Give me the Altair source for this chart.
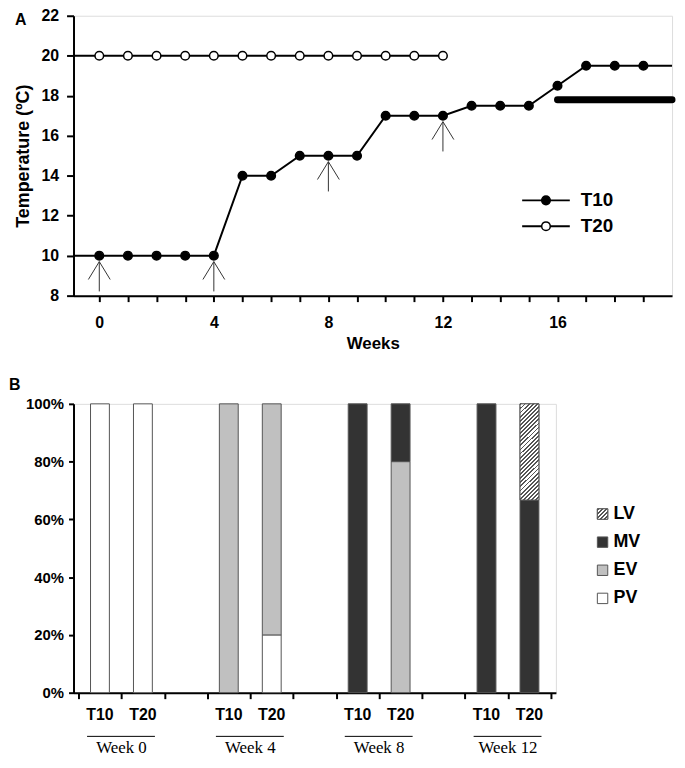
import altair as alt
import pandas as pd

# ---------------- Panel A data ----------------
weeks_t10 = list(range(20))
temps_t10 = [10, 10, 10, 10, 10, 14, 14, 15, 15, 15, 17, 17, 17, 17.5, 17.5, 17.5, 18.5, 19.5, 19.5, 19.5]
weeks_t20 = list(range(13))
temps_t20 = [20, 20, 20, 20, 20, 20, 20, 20, 20, 20, 20, 20, 20]
arrow_weeks = [0, 4, 8, 12]
hold_start, hold_end, hold_level = 16, 20, 17.8
week_min, week_max = -0.9, 20
series_names = ["T10", "T20"]

# ---------------- Panel B data ----------------
week_groups = ["Week 0", "Week 4", "Week 8", "Week 12"]
treatments = ["T10", "T20"]
stages = ["PV", "EV", "MV", "LV"]          # bottom to top
stage_colors = ["#ffffff", "#c0c0c0", "#333333", "#ffffff"]
# per bar, order: W0-T10, W0-T20, W4-T10, W4-T20, W8-T10, W8-T20, W12-T10, W12-T20
pv = [100, 100, 0, 20, 0, 0, 0, 0]
ev = [0, 0, 100, 80, 0, 80, 0, 0]
mv = [0, 0, 0, 0, 100, 20, 100, 66.7]
lv = [0, 0, 0, 0, 0, 0, 0, 33.3]

FONT = "Liberation Sans"
WA, HA = 603, 282
WB, HB = 486, 291

# ---------- Panel A frames ----------
point_rows = [{"series": "T10", "week": w, "temp": t} for w, t in zip(weeks_t10, temps_t10)]
point_rows += [{"series": "T20", "week": w, "temp": t} for w, t in zip(weeks_t20, temps_t20)]
df_points = pd.DataFrame(point_rows)

line_rows = list(point_rows)
line_rows.append({"series": "T10", "week": week_min, "temp": temps_t10[0]})
line_rows.append({"series": "T10", "week": week_max, "temp": temps_t10[-1]})
line_rows.append({"series": "T20", "week": week_min, "temp": temps_t20[0]})
df_lines = pd.DataFrame(line_rows)

df_arrows = pd.DataFrame({"week": arrow_weeks,
                          "temp": [temps_t10[weeks_t10.index(w)] for w in arrow_weeks]})
df_hold = pd.DataFrame({"start": [hold_start], "end": [hold_end], "level": [hold_level]})

xA = alt.X("week:Q",
           scale=alt.Scale(domain=[week_min, week_max], nice=False, zero=False),
           axis=alt.Axis(values=list(range(20)), tickCount=40, format="d",
                         labelExpr="datum.value % 4 == 0 ? datum.label : ''",
                         title="Weeks", grid=False, domainColor="black", domainWidth=2,
                         tickColor="black", tickWidth=2, tickSize=6,
                         labelFont=FONT, labelFontSize=16, labelFontWeight="bold",
                         labelColor="black", labelPadding=13, labelOverlap=False,
                         titleFont=FONT, titleFontSize=17, titleFontWeight="bold",
                         titleColor="black", titlePadding=5))
yA = alt.Y("temp:Q",
           scale=alt.Scale(domain=[8, 22], nice=False, zero=False),
           axis=alt.Axis(values=list(range(8, 23, 2)), tickCount=20, format="d",
                         title="Temperature (ºC)",
                         grid=False, domainColor="black", domainWidth=2,
                         tickColor="black", tickWidth=2, tickSize=7,
                         labelFont=FONT, labelFontSize=16, labelFontWeight="bold",
                         labelColor="black", labelPadding=8, labelOverlap=False,
                         titleFont=FONT, titleFontSize=18, titleFontWeight="bold",
                         titleColor="black", titlePadding=9))

fill_series = alt.Fill("series:N", scale=alt.Scale(domain=series_names, range=["black", "white"]),
                       legend=None)

lines = alt.Chart(df_lines).mark_line(color="black", strokeWidth=2).encode(
    x=xA, y=yA, detail="series:N", order="week:Q")

arrow_shaft = alt.Chart(df_arrows).mark_rule(color="#333333", strokeWidth=1,
                                             yOffset=6, y2Offset=36).encode(
    x="week:Q", y="temp:Q", y2="temp:Q")
arrow_left = alt.Chart(df_arrows).mark_rule(color="#333333", strokeWidth=1,
                                            yOffset=6, x2Offset=-11, y2Offset=24).encode(
    x="week:Q", x2="week:Q", y="temp:Q", y2="temp:Q")
arrow_right = alt.Chart(df_arrows).mark_rule(color="#333333", strokeWidth=1,
                                             yOffset=6, x2Offset=11, y2Offset=24).encode(
    x="week:Q", x2="week:Q", y="temp:Q", y2="temp:Q")

points = alt.Chart(df_points).mark_circle(size=75, stroke="black", strokeWidth=1.5,
                                          opacity=1).encode(
    x="week:Q", y="temp:Q", fill=fill_series)

hold = alt.Chart(df_hold).mark_rule(color="black", strokeWidth=7, strokeCap="round").encode(
    x="start:Q", x2="end:Q", y="level:Q")

mainA = alt.layer(lines, arrow_shaft, arrow_left, arrow_right, points, hold)

df_legA = pd.DataFrame({"series": series_names})
yLegA = alt.Y("series:N", scale=alt.Scale(type="point", domain=series_names,
                                           range=[186, 212], padding=0), axis=None)
legA_line = alt.Chart(df_legA).mark_rule(color="black", strokeWidth=2).encode(
    x=alt.value(452), x2=alt.value(500), y=yLegA)
legA_pt = alt.Chart(df_legA).mark_circle(size=75, stroke="black", strokeWidth=1.5,
                                         opacity=1).encode(
    x=alt.value(476), y=yLegA, fill=fill_series)
legA_txt = alt.Chart(df_legA).mark_text(align="left", baseline="middle", font=FONT,
                                        fontSize=19, fontWeight="bold", color="black").encode(
    x=alt.value(511), y=yLegA, text="series:N")
letterA = alt.Chart(pd.DataFrame({"t": ["A"]})).mark_text(
    align="left", baseline="middle", font=FONT, fontSize=16, fontWeight="bold",
    color="black").encode(x=alt.value(-59), y=alt.value(4), text="t:N")
legA = alt.layer(legA_line, legA_pt, legA_txt, letterA)

chartA = alt.layer(mainA, legA).resolve_scale(y="independent").properties(width=WA, height=HA)

# ---------- Panel B frames ----------
bar_keys = [(g, t) for g in week_groups for t in treatments]
stage_vals = {"PV": pv, "EV": ev, "MV": mv, "LV": lv}
bar_rows = []
label_rows = []
for i, (g, t) in enumerate(bar_keys):
    gi = week_groups.index(g)
    ti = treatments.index(t)
    slot = gi * 3 + ti + 0.5
    label_rows.append({"slot": slot, "treat": t})
    base = 0.0
    for s in stages:
        v = stage_vals[s][i]
        if v > 0:
            bar_rows.append({"slot": slot, "stage": s, "y0": base, "y1": base + v})
            base += v
df_bars = pd.DataFrame(bar_rows)
df_blabels = pd.DataFrame(label_rows)
df_groups = pd.DataFrame({"group": week_groups,
                          "start": [gi * 3 + 0.2 for gi in range(len(week_groups))],
                          "end": [gi * 3 + 1.78 for gi in range(len(week_groups))],
                          "mid": [gi * 3 + 1.0 for gi in range(len(week_groups))]})

n_slots = len(week_groups) * 3 - 1
xB = alt.X("slot:Q", scale=alt.Scale(domain=[0, n_slots], nice=False, zero=False),
           axis=alt.Axis(values=list(range(n_slots + 1)), tickCount=30, labels=False,
                         title=None, grid=False,
                         domainColor="black", domainWidth=2, tickColor="black",
                         tickWidth=2, tickSize=6))
yB = alt.Y("y1:Q", scale=alt.Scale(domain=[0, 100], nice=False),
           axis=alt.Axis(values=list(range(0, 101, 20)), tickCount=20, format="d",
                         labelExpr="datum.value + '%'",
                         title=None, grid=False, domainColor="black", domainWidth=2,
                         tickColor="black", tickWidth=2, tickSize=5,
                         labelFont=FONT, labelFontSize=15, labelFontWeight="bold",
                         labelColor="black", labelPadding=5, labelOverlap=False))

fill_stage = alt.Fill("stage:N", scale=alt.Scale(domain=stages, range=stage_colors), legend=None)


def stripes(n, dark, light, frac):
    out = []
    for k in range(n):
        a, b, c = k / n, (k + frac) / n, (k + 1) / n
        out += [{"offset": a, "color": dark}, {"offset": b, "color": dark},
                {"offset": b, "color": light}, {"offset": c, "color": light}]
    return out


hatch_bar = {"gradient": "linear", "x1": 0, "y1": 0, "x2": 0.223, "y2": 1.151,
             "stops": stripes(28, "#555555", "#ffffff", 0.45)}
hatch_sq = {"gradient": "linear", "x1": 0, "y1": 0, "x2": 1, "y2": 1,
            "stops": stripes(5, "#555555", "#ffffff", 0.45)}

bars = alt.Chart(df_bars).mark_bar(size=19, stroke="#555555", strokeWidth=1).encode(
    x=xB, y=yB, y2="y0:Q", fill=fill_stage)
bars_lv = alt.Chart(df_bars).transform_filter(alt.datum.stage == "LV").mark_bar(
    size=19, stroke="#555555", strokeWidth=1, fill=hatch_bar).encode(
    x="slot:Q", y="y1:Q", y2="y0:Q")
treat_txt = alt.Chart(df_blabels).mark_text(font=FONT, fontSize=16, fontWeight="bold",
                                            color="black", baseline="middle").encode(
    x="slot:Q", y=alt.value(HB + 23), text="treat:N")
group_rule = alt.Chart(df_groups).mark_rule(color="black", strokeWidth=1).encode(
    x="start:Q", x2="end:Q", y=alt.value(HB + 44))
group_txt = alt.Chart(df_groups).mark_text(font="Liberation Serif", fontSize=17,
                                           color="black", baseline="middle").encode(
    x="mid:Q", y=alt.value(HB + 56), text="group:N")
mainB = alt.layer(bars, bars_lv, treat_txt, group_rule, group_txt)

legend_order = stages[::-1]
df_legB = pd.DataFrame({"stage": legend_order})
yLegB = alt.Y("stage:N", scale=alt.Scale(type="point", domain=legend_order,
                                          range=[111, 196], padding=0), axis=None)
legB_sq = alt.Chart(df_legB).mark_square(size=110, stroke="#555555", strokeWidth=1,
                                         opacity=1).encode(
    x=alt.value(533), y=yLegB, fill=fill_stage)
legB_lv = alt.Chart(df_legB).transform_filter(alt.datum.stage == "LV").mark_square(
    size=110, stroke="#555555", strokeWidth=1, opacity=1, fill=hatch_sq).encode(
    x=alt.value(533), y=yLegB)
legB_txt = alt.Chart(df_legB).mark_text(align="left", baseline="middle", font=FONT,
                                        fontSize=18, fontWeight="bold", color="black").encode(
    x=alt.value(544), y=yLegB, text="stage:N")
letterB = alt.Chart(pd.DataFrame({"t": ["B"]})).mark_text(
    align="left", baseline="middle", font=FONT, fontSize=16, fontWeight="bold",
    color="black").encode(x=alt.value(-65), y=alt.value(-19), text="t:N")
legB = alt.layer(legB_sq, legB_lv, legB_txt, letterB)

chartB = alt.layer(mainB, legB).resolve_scale(y="independent").properties(width=WB, height=HB)

chart = alt.vconcat(chartA, chartB, spacing=24).resolve_scale(
    fill="independent"
).properties(
    padding={"left": 0, "top": -4, "right": 0, "bottom": 0}
).configure_view(stroke=None).configure(background="white")

chart.save("out.html", embed_options={"renderer": "svg", "actions": False})
